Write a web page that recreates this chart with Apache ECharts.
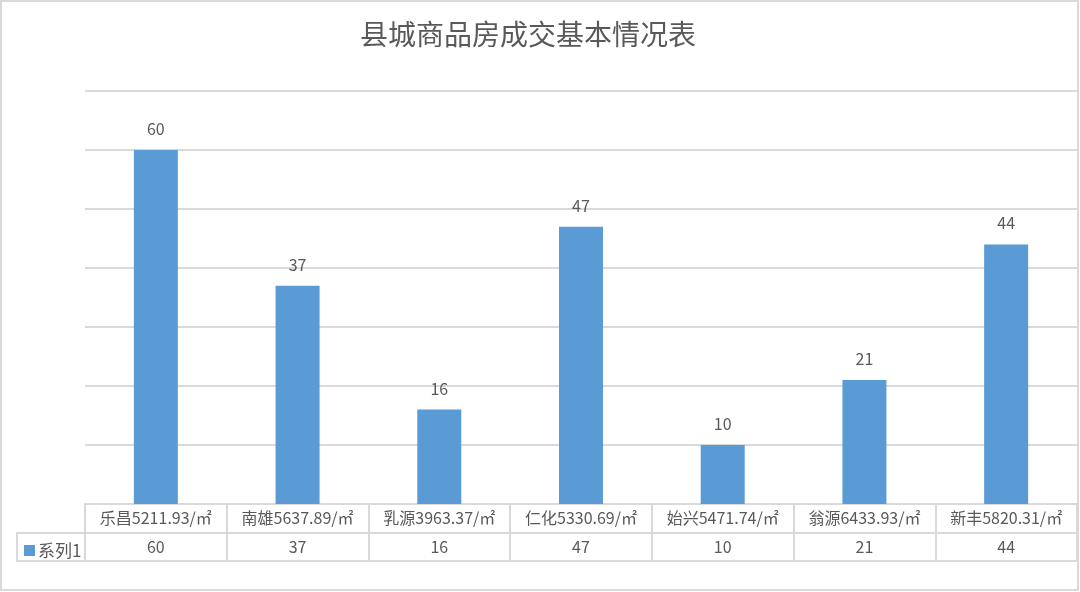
<!DOCTYPE html>
<html>
<head>
<meta charset="utf-8">
<script src="https://cdn.jsdelivr.net/npm/echarts@6/dist/echarts.min.js"></script>
<style>
html,body{margin:0;padding:0;background:#fff;}
#main{width:1080px;height:592px;}
</style>
</head>
<body>
<div id="main"></div>
<script>
const title = '县城商品房成交基本情况表';
const categories = ['乐昌5211.93/㎡','南雄5637.89/㎡','乳源3963.37/㎡','仁化5330.69/㎡','始兴5471.74/㎡','翁源6433.93/㎡','新丰5820.31/㎡'];
const seriesName = '系列1';
const values = [60, 37, 16, 47, 10, 21, 44];
const yMin = 0, yMax = 70, yInterval = 10;

const textColor = '#595959';
const lineColor = '#d9d9d9';
const font = '"Noto Sans CJK SC", "Open Sans", sans-serif';

const chart = echarts.init(document.getElementById('main'), null, {renderer: 'canvas'});
chart.setOption({
  backgroundColor: '#fff',
  animation: false,
  title: {
    text: title,
    left: 523, top: 15, textAlign: 'center',
    textStyle: {color: textColor, fontSize: 28, fontWeight: 'normal', fontFamily: font}
  },
  legend: {
    data: [seriesName],
    left: 19, top: 537,
    icon: 'rect', itemWidth: 11, itemHeight: 11, itemGap: 3,
    textStyle: {color: textColor, fontSize: 17, fontFamily: font, padding: [0,0,0,-2]}
  },
  grid: {left: 85, right: 3, top: 91, bottom: 88, containLabel: false},
  xAxis: [
    {
      type: 'category', data: categories, position: 'bottom',
      axisLine: {show: true, lineStyle: {color: lineColor, width: 2}},
      axisTick: {show: true, alignWithLabel: false, length: 57, lineStyle: {color: lineColor, width: 2}},
      axisLabel: {color: textColor, fontSize: 16, fontFamily: font, margin: 6, interval: 0}
    },
    {
      type: 'category', data: categories, position: 'bottom', offset: 29,
      axisLine: {show: true, lineStyle: {color: lineColor, width: 2}},
      axisTick: {show: false},
      axisLabel: {color: textColor, fontSize: 16, fontFamily: font, margin: 6, interval: 0,
        formatter: (v, i) => String(values[i])}
    },
    {
      type: 'category', data: categories, position: 'bottom', offset: 57,
      axisLine: {show: true, lineStyle: {color: lineColor, width: 2}},
      axisTick: {show: false},
      axisLabel: {show: false}
    }
  ],
  yAxis: {
    type: 'value', min: yMin, max: yMax, interval: yInterval,
    axisLine: {show: false}, axisTick: {show: false}, axisLabel: {show: false},
    splitLine: {show: true, lineStyle: {color: lineColor, width: 2}}
  },
  series: [{
    name: seriesName, type: 'bar', data: values, xAxisIndex: 0,
    barWidth: 44,
    itemStyle: {color: '#5b9bd5'},
    label: {show: true, position: 'top', distance: 13, color: textColor, fontSize: 16, fontFamily: font}
  }],
  graphic: [
    {type: 'rect', shape: {x: 17, y: 533, width: 68, height: 28}, style: {fill: 'none', stroke: lineColor, lineWidth: 2}, z: 0},
    {type: 'rect', shape: {x: 1, y: 1, width: 1077, height: 589}, style: {fill: 'none', stroke: lineColor, lineWidth: 2}, z: 0}
  ]
});
</script>
</body>
</html>
